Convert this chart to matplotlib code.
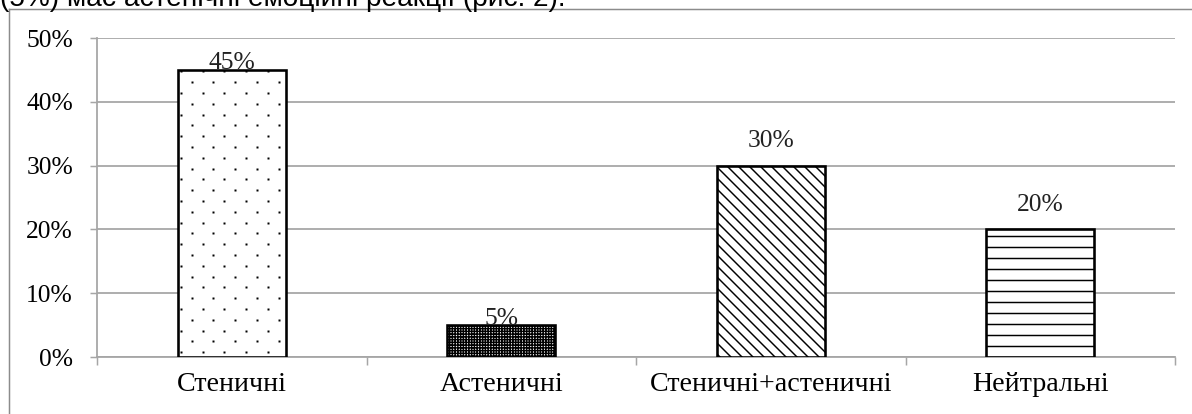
import numpy as np
import matplotlib.pyplot as plt
from matplotlib.lines import Line2D

# дані
categories = ['Стеничні', 'Астеничні', 'Стеничні+астеничні', 'Нейтральні']
values = [45, 5, 30, 20]
hatches = ['', '++++', '\\\\', '-']
label_offsets_px = [1, 0, 19, 18]
yticks = [0, 10, 20, 30, 40, 50]

DPI = 66
W, H = 1192, 414
plt.rcParams['font.family'] = ['Liberation Serif', 'DejaVu Serif']
plt.rcParams['hatch.linewidth'] = 1.6
px = 72 / DPI  # пікселі -> пункти
fs = 25.5 * px

fig = plt.figure(figsize=(W / DPI, H / DPI), dpi=DPI)
ax = fig.add_axes([97 / W, 1 - 357 / H, (1175 - 97) / W, (357 - 38) / H])
ax.set_xlim(-0.5, 3.5)
ax.set_ylim(0, 50)

x = list(range(len(categories)))
bars = ax.bar(x, values, width=0.4, color='white', edgecolor='black',
              linewidth=2.6 * px, zorder=3)
for b, h in zip(bars, hatches):
    b.set_hatch(h)

# крапковий візерунок першого стовпчика (рідкі крапки, зсув через рядок)
b = bars[0]
dx = 4 / 1078   # одиниць даних на піксель по x
dy = 50 / 319   # по y
step_x, step_y = 21.7 * dx, 10.8 * dy
dots_x, dots_y = [], []
for r, yy in enumerate(np.arange(b.get_y() + 1.5 * dy, b.get_height(), step_y)):
    start = b.get_x() + 3 * dx + (0 if r % 2 == 0 else step_x / 2)
    for xx in np.arange(start, b.get_x() + b.get_width() - 2 * dx, step_x):
        dots_x.append(xx)
        dots_y.append(b.get_height() - (yy - b.get_y()))
ax.plot(dots_x, dots_y, ls='none', marker='s', ms=2.2 * px, color='black',
        mec='none', zorder=4)

for b, v, off in zip(bars, values, label_offsets_px):
    ax.annotate(f'{v}%', (b.get_x() + b.get_width() / 2, v),
                xytext=(0, off * px), textcoords='offset points',
                ha='center', va='baseline', fontsize=fs, color='#222222',
                zorder=5)

ax.set_yticks(yticks)
ax.set_yticklabels([f'{t}%' for t in yticks])
ax.yaxis.grid(True, color='#a6a6a6', linewidth=1.8 * px, zorder=0)
ax.set_axisbelow(True)

ax.set_xticks(x)
ax.set_xticklabels(categories)
ax.set_xticks([i - 0.5 for i in range(len(categories) + 1)], minor=True)
ax.tick_params(axis='x', which='major', length=0, pad=15 * px,
               labelsize=28 * px)
ax.tick_params(axis='x', which='minor', length=8 * px, width=1.5 * px,
               color='#a6a6a6', direction='out')
ax.tick_params(axis='y', length=7 * px, width=1.5 * px, color='#a6a6a6',
               pad=17 * px, labelsize=fs)

for s in ['top', 'right']:
    ax.spines[s].set_visible(False)
for s in ['left', 'bottom']:
    ax.spines[s].set_color('#a6a6a6')
    ax.spines[s].set_linewidth(1.8 * px)

# рамка діаграми
fig.add_artist(Line2D([9 / W, 1.0], [1 - 9 / H, 1 - 9 / H], color='#8c8c8c',
                      linewidth=1.5 * px, transform=fig.transFigure))
fig.add_artist(Line2D([9 / W, 9 / W], [0, 1 - 9 / H], color='#8c8c8c',
                      linewidth=1.5 * px, transform=fig.transFigure))

# обрізаний рядок тексту зверху
fig.text(0 / W, 1 - 6 / H, '(5%) має астенічні емоційні реакції (рис. 2).',
         fontsize=28 * px, family=['Liberation Sans', 'DejaVu Sans'],
         va='baseline', ha='left', color='black')

fig.savefig('out.png', dpi=DPI)
